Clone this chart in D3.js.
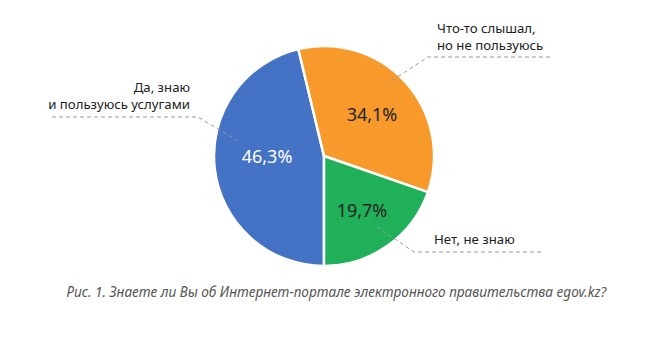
<!DOCTYPE html>
<html><head><meta charset="utf-8">
<script src="https://cdn.jsdelivr.net/npm/d3@7"></script>
<style>body{margin:0;background:#fff}</style>
</head><body>
<svg id="c" width="653" height="339"></svg>
<script>
const categories = ["Да, знаю\nи пользуюсь услугами", "Что-то слышал,\nно не пользуюсь", "Нет, не знаю"];
const values = [46.3, 34.1, 19.7];
const valueLabels = ["46,3%", "34,1%", "19,7%"];
const colors = ["#4472C4", "#F79A2B", "#20B05A"];
const labelColors = ["#ffffff", "#222222", "#222222"];
const caption = "Рис. 1. Знаете ли Вы об Интернет-портале электронного правительства egov.kz?";

const svg = d3.select("#c");
const cx = 324, cy = 156, r = 110;
const g = svg.append("g").attr("transform", `translate(${cx},${cy})`);
const pie = d3.pie().sort(null).startAngle(Math.PI).endAngle(3*Math.PI);
const arcs = pie(values);
const arc = d3.arc().innerRadius(0).outerRadius(r);
g.selectAll("path").data(arcs).enter().append("path")
  .attr("d", arc).attr("fill", (d,i)=>colors[i])
  .attr("stroke", "#fff").attr("stroke-width", 2.5).attr("stroke-linejoin","round");

const font = "'Noto Sans', 'Open Sans', sans-serif";
const offs = [[-57,7],[48,-35],[38,61]];
arcs.forEach((d,i)=>{
  g.append("text").attr("x", offs[i][0]).attr("y", offs[i][1])
   .attr("text-anchor","middle").attr("font-family", font).attr("font-size", 18)
   .attr("fill", labelColors[i]).text(valueLabels[i]);
});

// callouts
const callouts = [
  {lines: categories[0].split("\n"), anchor:"end", tx:190, ty:[92,109],
   pts:[[52,117],[198,117],[238,141]]},
  {lines: categories[1].split("\n"), anchor:"start", tx:437, ty:[33,50],
   pts:[[550,57],[428,57],[388,83]]},
  {lines: categories[2].split("\n"), anchor:"start", tx:434, ty:[244],
   pts:[[541,252],[414,252],[377,227]]}
];
callouts.forEach(c=>{
  svg.append("path").attr("d", d3.line()(c.pts)).attr("fill","none")
    .attr("stroke","#9a9a9a").attr("stroke-width",1).attr("stroke-dasharray","4,3");
  c.lines.forEach((t,j)=>{
    svg.append("text").attr("x", c.tx).attr("y", c.ty[j]).attr("text-anchor", c.anchor)
      .attr("font-family", font).attr("font-size", 13.2).attr("fill","#222").text(t);
  });
});

svg.append("text").attr("x", 336.5).attr("y", 297).attr("text-anchor","middle")
  .attr("font-family", font).attr("font-style","italic").attr("font-size", 13.6)
  .attr("fill","#555").text(caption);
</script>
</body></html>
